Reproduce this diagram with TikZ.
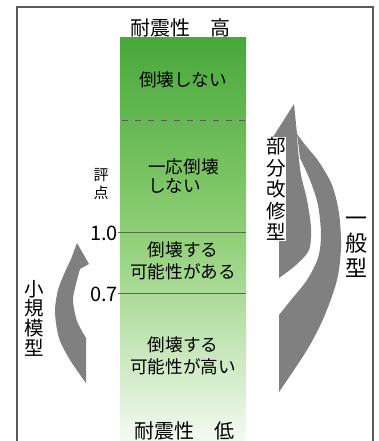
\documentclass[tikz,border=0pt]{standalone}
\usepackage{fontspec}
\setmainfont{Noto Sans CJK JP}
\definecolor{arrowgray}{RGB}{128,128,128}
\definecolor{framegray}{RGB}{90,90,90}
\definecolor{barTop}{RGB}{72,168,58}
\definecolor{barMid}{RGB}{145,208,120}
\definecolor{barBot}{RGB}{244,250,242}
\definecolor{lvlgreen}{RGB}{80,110,70}
\tikzset{
  lbl/.style={font=\fontsize{17.6}{19}\selectfont, text=black, inner sep=0pt},
  ttl/.style={font=\fontsize{20}{24}\selectfont, text=black, inner sep=0pt},
  num/.style={font=\fontsize{20}{24}\selectfont, text=black, inner sep=0pt},
  vlabel/.style={align=center, text=black, inner sep=0.5pt},
  arrowshape/.style={fill=arrowgray},
  levelline/.style={draw=lvlgreen, line width=1pt},
  dashline/.style={draw=framegray, line width=0.9pt, dash pattern=on 6pt off 7pt},
  frameline/.style={draw=framegray, line width=1.3pt}
}
\begin{document}
\begin{tikzpicture}[x=1pt, y=-1pt]
\useasboundingbox (0,0) rectangle (379,441);
% frame
\draw[frameline] (17,441) -- (17,7) -- (373,7) -- (373,441);
% green bar
\shade[top color=barTop, bottom color=barBot, middle color=barMid] (120,38) rectangle (246,441);
% level lines
\draw[dashline] (122,120) -- (246,120);
\draw[levelline] (118,232) -- (246,232);
\draw[levelline] (118,293) -- (246,293);
% big arrow (outer)
\fill[arrowshape] (279,392) -- (279,315)
  -- plot[smooth] coordinates {(279,315) (291,300) (307,280) (318,258) (321,235) (318,205) (310,180) (300,158)}
  -- (297,134)
  -- plot[smooth] coordinates {(297,134) (306,146) (319,162) (332,185) (339,213) (341,247) (337,280) (324,317) (307,350) (279,392)}
  -- cycle;
% inner arrow with head
\fill[arrowshape] (294,104) -- (297,134)
  -- plot[smooth] coordinates {(297,134) (298,150) (301,175) (307,200) (311,228) (309,250) (296,265) (279,278)}
  -- (279,190) -- (272,150) -- (266,148) -- cycle;
% left arrow
\fill[arrowshape] (86,383)
  -- plot[smooth] coordinates {(86,383) (70,360) (59,338) (55,312) (58,290) (65,272) (71,259)}
  -- (77,243) -- (89,264) -- (80,269)
  -- plot[smooth] coordinates {(80,269) (76,284) (73,300) (77,321) (86,338)}
  -- cycle;
% titles
\node[ttl] (hi) at (180,28) {耐震性　高};
\node[ttl] (lo) at (184,431) {耐震性　低};
% bar labels
\node[lbl] (t1) at (183,80) {倒壊しない};
\node[lbl, align=left, anchor=west] (t2) at (148,176.5) {一応倒壊\\しない};
\node[lbl, align=center, font=\fontsize{17.6}{21.5}\selectfont] (t3) at (183,261) {倒壊する\\可能性がある};
\node[lbl, align=center, font=\fontsize{17.6}{22}\selectfont] (t4) at (183,356) {倒壊する\\可能性が高い};
% scale
\node[vlabel, font=\fontsize{15}{18}\selectfont] (hyo) at (101,184) {評\\点};
\node[num, anchor=east] (v10) at (118,233) {1.0};
\node[num, anchor=east] (v07) at (118,294) {0.7};
% vertical labels
\node[vlabel, fill=white, font=\fontsize{19.5}{21.5}\selectfont] (bu) at (276,189) {部\\分\\改\\修\\型};
\node[vlabel, font=\fontsize{22}{25}\selectfont] (ip) at (356,247) {一\\般\\型};
\node[vlabel, font=\fontsize{19.5}{19.7}\selectfont] (sk) at (34,318) {小\\規\\模\\型};
\end{tikzpicture}
\end{document}
